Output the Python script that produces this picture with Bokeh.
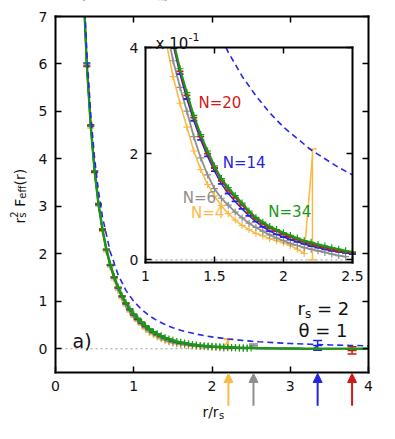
from bokeh.plotting import figure
from bokeh.models import (Range1d, LinearAxis, FixedTicker, Label, Arrow, NormalHead,
                          CustomJSTickFormatter)
from bokeh.embed import file_html
from bokeh.resources import INLINE

# ---------------- data ----------------
r_grid = [0.35, 0.40, 0.45, 0.50, 0.55, 0.60, 0.65, 0.70, 0.75, 0.80,
          0.85, 0.90, 0.95, 1.00, 1.05, 1.10, 1.15, 1.20, 1.25, 1.30,
          1.35, 1.40, 1.45, 1.50, 1.55, 1.60, 1.65, 1.70, 1.75, 1.80,
          1.85, 1.90, 1.95, 2.00, 2.05, 2.10, 2.15, 2.20, 2.25, 2.30,
          2.35, 2.40, 2.45, 2.50, 2.60, 2.70, 2.80, 2.90, 3.00, 3.10,
          3.20, 3.30, 3.40, 3.50, 3.60, 3.70, 3.80, 3.90, 4.00]

f_N4 = [7.8, 5.95, 4.65, 3.70, 3.00, 2.47, 2.04, 1.72, 1.45, 1.23,
        1.05, 0.90, 0.77, 0.66, 0.57, 0.49, 0.41, 0.345, 0.295, 0.25,
        0.205, 0.170, 0.142, 0.120, 0.102, 0.087, 0.075, 0.065, 0.057, 0.050,
        0.045, 0.040, 0.036, 0.032, 0.027, 0.020, 0.012]
f_N6 = [7.8, 5.97, 4.68, 3.72, 3.02, 2.49, 2.07, 1.74, 1.48, 1.26,
        1.08, 0.93, 0.80, 0.69, 0.60, 0.52, 0.44, 0.375, 0.325, 0.28,
        0.232, 0.192, 0.160, 0.134, 0.116, 0.103, 0.090, 0.079, 0.069, 0.061,
        0.054, 0.047, 0.041, 0.036, 0.031, 0.027, 0.023, 0.020, 0.017, 0.014,
        0.011, 0.008, 0.006]
f_N14 = [7.9, 6.02, 4.70, 3.74, 3.04, 2.52, 2.09, 1.76, 1.50, 1.28,
         1.10, 0.95, 0.825, 0.715, 0.625, 0.545, 0.47, 0.405, 0.35, 0.303,
         0.262, 0.226, 0.195, 0.167, 0.143, 0.125, 0.110, 0.096, 0.083, 0.072,
         0.062, 0.054, 0.048, 0.043, 0.038, 0.034, 0.030, 0.026, 0.023, 0.020,
         0.017, 0.015, 0.013, 0.011, 0.008, 0.006, 0.005, 0.004, 0.003, 0.002,
         0.002, 0.001]
f_N20 = [7.85, 5.95, 4.72, 3.72, 3.06, 2.50, 2.09, 1.77, 1.51, 1.29,
         1.11, 0.96, 0.835, 0.725, 0.635, 0.555, 0.48, 0.41, 0.355, 0.31,
         0.268, 0.232, 0.20, 0.173, 0.149, 0.131, 0.117, 0.103, 0.089, 0.077,
         0.068, 0.060, 0.054, 0.048, 0.043, 0.038, 0.034, 0.030, 0.026, 0.023,
         0.020, 0.017, 0.015, 0.013, 0.010, 0.008, 0.006, 0.005, 0.004, 0.003,
         0.002, 0.002, 0.001, 0.001, 0.0, 0.0]
f_N34 = [7.9, 6.0, 4.7, 3.75, 3.05, 2.53, 2.10, 1.78, 1.52, 1.30,
         1.12, 0.97, 0.84, 0.73, 0.64, 0.56, 0.485, 0.415, 0.36, 0.315,
         0.272, 0.236, 0.205, 0.177, 0.153, 0.136, 0.121, 0.107, 0.092, 0.080,
         0.071, 0.063, 0.057, 0.051, 0.046, 0.041, 0.036, 0.033, 0.029, 0.026,
         0.023, 0.020, 0.017, 0.015, 0.012, 0.010, 0.008, 0.007, 0.006, 0.005,
         0.004, 0.004, 0.003, 0.003, 0.002, 0.002, 0.001, 0.001, 0.001]

# last point of each finite-N curve (with its error bar) = arrow positions
end_N = [4, 6, 14, 20]
end_r = [2.21, 2.53, 3.35, 3.79]
end_f = [0.195, 0.065, 0.07, -0.035]
end_lo = [0.0, 0.03, -0.03, -0.11]
end_hi = [0.209, 0.10, 0.175, 0.04]

# bare Coulomb reference (dashed)
coul_r = [0.36, 0.38, 0.40, 0.45, 0.50, 0.55, 0.60, 0.70, 0.80, 0.90,
          1.00, 1.10, 1.20, 1.30, 1.40, 1.50, 1.60, 1.70, 1.80, 1.90,
          2.00, 2.20, 2.40, 2.50, 2.60, 2.80, 3.00, 3.25, 3.50, 3.75, 4.00]
coul_f = [7.72, 6.93, 6.25, 4.94, 4.00, 3.31, 2.78, 2.04, 1.56, 1.23,
          1.00, 0.826, 0.694, 0.592, 0.510, 0.444, 0.391, 0.346, 0.309, 0.277,
          0.250, 0.207, 0.174, 0.160, 0.148, 0.128, 0.111, 0.095, 0.082, 0.071, 0.0625]

x_ticks = [0, 1, 2, 3, 4]
y_ticks = [0, 1, 2, 3, 4, 5, 6, 7]
top_ticks = [1, 2, 3]
inset_x_ticks = [1, 1.5, 2, 2.5]
inset_y_ticks = [0, 2, 4]

# ---------------- style / layout ----------------
FONT = "DejaVu Sans"
TXT = "#111111"
C = {4: "#f8bb48", 6: "#8e8e8e", 14: "#2424e0", 20: "#d01818", 34: "#169a16"}
MARK = {4: "cross", 6: "cross", 14: "dash", 20: "dash", 34: "cross"}
LW = {4: 1.6, 6: 1.8, 14: 1.5, 20: 1.5, 34: 2.4}
VALUES = {4: f_N4, 6: f_N6, 14: f_N14, 20: f_N20, 34: f_N34}
ORDER = [4, 6, 14, 20, 34]

W, H = 390, 434
XLIM = (0, 4)
YLIM = (-0.5, 7)
BOX_PX = (55, 368, 16, 372)          # left, right, top, bottom of the main box (pixels)
INSET_X = (1.0, 2.5)
INSET_Y = (-0.05, 4.0)
INSET_PX = (145, 352, 47, 262)       # inset box (pixels)
INSET_SCALE = 10.0


def ranges_for(lim_x, lim_y, box):
    l, r, t, b = box
    sx = (r - l) / (lim_x[1] - lim_x[0])
    sy = (b - t) / (lim_y[1] - lim_y[0])
    xr = Range1d(lim_x[0] - l / sx, lim_x[1] + (W - r) / sx)
    yr = Range1d(lim_y[0] - (H - b) / sy, lim_y[1] + t / sy)
    return xr, yr


main_xr, main_yr = ranges_for(XLIM, YLIM, BOX_PX)
ix_range, iy_range = ranges_for(INSET_X, INSET_Y, INSET_PX)

p = figure(width=W, height=H, x_range=main_xr, y_range=main_yr,
           output_backend="svg", toolbar_location=None,
           x_axis_location=None, y_axis_location=None,
           min_border_left=0, min_border_right=0, min_border_top=0, min_border_bottom=0)
p.grid.visible = False
p.outline_line_color = None
p.background_fill_color = "white"
p.border_fill_color = "white"
p.extra_x_ranges = {"ix": ix_range}
p.extra_y_ranges = {"iy": iy_range}
IR = dict(x_range_name="ix", y_range_name="iy")


def make_axis(side, loc, bounds, ticks, show_labels=True, standoff=8, **rn):
    ax = LinearAxis(fixed_location=loc, bounds=bounds, **rn)
    ax.ticker = FixedTicker(ticks=ticks)
    ax.minor_tick_line_color = None
    ax.major_tick_in = 6
    ax.major_tick_out = 0
    ax.major_tick_line_width = 1.5
    ax.major_tick_line_color = "black"
    ax.axis_line_width = 2
    ax.axis_line_color = "black"
    ax.axis_line_cap = "square"
    ax.major_label_text_font = FONT
    ax.major_label_text_font_size = "14px"
    ax.major_label_text_color = TXT if show_labels else None
    ax.major_label_standoff = standoff
    ax.formatter = CustomJSTickFormatter(code="return tick.toString();")
    p.add_layout(ax, side)
    return ax


# ---------------- main panel ----------------
p.segment(x0=[XLIM[0]], y0=[0], x1=[XLIM[1]], y1=[0], line_color="#9a9a9a",
          line_width=1, line_dash="2 3")

for n in ORDER:
    f = VALUES[n]
    xs = r_grid[:len(f)]
    ys = list(f)
    if n in end_N:
        k = end_N.index(n)
        xs = xs + [end_r[k]]
        ys = ys + [end_f[k]]
    p.line(xs, ys, line_color=C[n], line_width=LW[n])
    mx = [x for x in r_grid[:len(f)] if x <= 2.5]
    my = f[:len(mx)]
    p.scatter(mx, my, marker=MARK[n], size=7, line_color=C[n],
              line_width=1.6 if MARK[n] == "dash" else 1.2)
    if n in end_N:
        k = end_N.index(n)
        p.segment(x0=[end_r[k]], y0=[end_lo[k]], x1=[end_r[k]], y1=[end_hi[k]],
                  line_color=C[n], line_width=1.5)
        p.scatter([end_r[k]] * 3, [end_lo[k], end_f[k], end_hi[k]], marker="dash", size=9,
                  line_color=C[n], line_width=1.5)

p.line(coul_r, coul_f, line_color="#2828e6", line_width=1.6, line_dash="6 4")

# mask everything that rises above the main box
p.quad(left=[main_xr.start], right=[main_xr.end], bottom=[YLIM[1]], top=[main_yr.end + 1],
       fill_color="white", line_color=None)

# arrows below the axis marking each curve's end
for k, n in enumerate(end_N):
    p.add_layout(Arrow(end=NormalHead(size=9, fill_color=C[n], line_color=C[n], line_width=1),
                       x_start=end_r[k], y_start=-1.2, x_end=end_r[k], y_end=-0.52,
                       line_color=C[n], line_width=2))

make_axis("below", YLIM[0], XLIM, x_ticks, standoff=8)
make_axis("left", XLIM[0], YLIM, y_ticks, standoff=8)
make_axis("above", YLIM[1], XLIM, top_ticks, show_labels=False)
make_axis("right", XLIM[1], YLIM, y_ticks, show_labels=False)

# ---------------- inset ----------------


def in_inset(rs, fs):
    xs, ys = [], []
    for r, v in zip(rs, fs):
        if INSET_X[0] <= r <= INSET_X[1]:
            xs.append(r)
            ys.append(v * INSET_SCALE)
    return xs, ys


p.segment(x0=[INSET_X[0]], y0=[0], x1=[INSET_X[1]], y1=[0], line_color="#9a9a9a",
          line_width=1, line_dash="2 3", **IR)

for n in ORDER:
    f = VALUES[n]
    xs, ys = in_inset(r_grid[:len(f)], f)
    if n in end_N:
        k = end_N.index(n)
        ex, ey = in_inset([end_r[k]], [end_f[k]])
        xs, ys = xs + ex, ys + ey
    p.line(xs, ys, line_color=C[n], line_width=LW[n] if n != 34 else 2.0, **IR)
    mx, my = in_inset(r_grid[:len(f)], f)
    p.scatter(mx, my, marker=MARK[n], size=7, line_color=C[n],
              line_width=1.8 if MARK[n] == "dash" else 1.2, **IR)
    if n in end_N:
        k = end_N.index(n)
        if INSET_X[0] <= end_r[k] <= INSET_X[1]:
            lo, hi = end_lo[k] * INSET_SCALE, end_hi[k] * INSET_SCALE
            p.segment(x0=[end_r[k]], y0=[lo], x1=[end_r[k]], y1=[hi], line_color=C[n],
                      line_width=1.5, **IR)
            p.scatter([end_r[k]] * 2, [lo, hi], marker="dash", size=9, line_color=C[n],
                      line_width=1.5, **IR)

cx, cy = in_inset(coul_r, coul_f)
p.line(cx, cy, line_color="#2828e6", line_width=1.6, line_dash="6 4", **IR)

# mask the part of the inset curves that rises above the inset box
p.quad(left=[INSET_X[0]], right=[INSET_X[1]], bottom=[INSET_Y[1]], top=[iy_range.end + 1],
       fill_color="white", line_color=None, **IR)

make_axis("left", INSET_X[0], INSET_Y, inset_y_ticks, standoff=7, **IR)
make_axis("right", INSET_X[1], INSET_Y, inset_y_ticks, show_labels=False, **IR)
make_axis("below", INSET_Y[0], INSET_X, inset_x_ticks, standoff=8, **IR)
make_axis("above", INSET_Y[1], INSET_X, [1.5, 2], show_labels=False, **IR)


def add_label(text, x, y, dx, dy, size, color=TXT, angle=0.0, align="left",
              baseline="alphabetic", **rn):
    p.add_layout(Label(x=x, y=y, x_offset=dx, y_offset=dy, text=text, text_font=FONT,
                       text_font_size=f"{size}px", text_color=color, angle=angle,
                       text_align=align, text_baseline=baseline, **rn))


# inset curve names
name_pos = {20: (1.384, 2.96), 14: (1.56, 1.82), 6: (1.27, 1.16), 4: (1.33, 0.88), 34: (1.89, 0.91)}
for n, (lx, ly) in name_pos.items():
    add_label(f"N={n}", lx, ly, 0, 0, 15, color=C[n], baseline="middle", **IR)

# "x 10^-1"
add_label("x 10", INSET_X[0], INSET_Y[1], 10, 4, 15, **IR)
add_label("-1", INSET_X[0], INSET_Y[1], 43, 11, 11, **IR)

# panel tag and parameters
add_label("a)", 0, 0, 17, 8, 19)
add_label("r", 4, 0, -71, 40, 18)
add_label("s", 4, 0, -63.6, 35, 12)
add_label("= 2", 4, 0, -51.6, 40, 18)
add_label("θ = 1", 4, 0, -21, 18, 18, align="right")

# x axis title r/r_s
add_label("r/r", 2, -0.5, -9.6, -39, 14)
add_label("s", 2, -0.5, 6.9, -43, 10)

# y axis title r_s^2 F_eff(r), rotated
A = 1.5707963
add_label("r", 0, 0, -36, 125.3, 14, angle=A)
add_label("s", 0, 0, -33, 131.1, 10, angle=A)
add_label("2", 0, 0, -42, 131.1, 10, angle=A)
add_label("F", 0, 0, -36, 142.0, 14, angle=A)
add_label("eff", 0, 0, -33, 150.0, 10, angle=A)
add_label("(r)", 0, 0, -36, 163.2, 14, angle=A)

open("out.html", "w").write(file_html(p, INLINE, title="plot"))
